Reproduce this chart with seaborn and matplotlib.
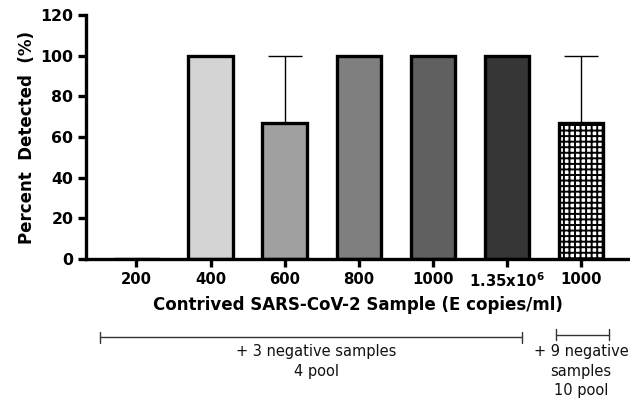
import matplotlib
matplotlib.use("Agg")
import matplotlib.pyplot as plt
import matplotlib.transforms as mtransforms
import seaborn as sns
import pandas as pd
import numpy as np

categories = ["200", "400", "600", "800", "1000", "1.35e6", "1000 pool10"]
tick_labels = ["200", "400", "600", "800", "1000", r"1.35x10$^{\mathregular{6}}$", "1000"]
values = [0, 100, 66.67, 100, 100, 100, 66.67]
err_upper = [0, 0, 33.33, 0, 0, 0, 33.33]
colors = ["#ffffff", "#d4d4d4", "#a0a0a0", "#7f7f7f", "#606060", "#363636", "#ffffff"]

sns.set_style("ticks")
plt.rcParams["font.family"] = ["DejaVu Sans"]
plt.rcParams["hatch.linewidth"] = 1.4
plt.rcParams["mathtext.default"] = "regular"
for k in ["text.color", "axes.labelcolor", "xtick.color", "ytick.color", "axes.edgecolor"]:
    plt.rcParams[k] = "black"

df = pd.DataFrame({"cat": categories, "val": values})

fig = plt.figure(figsize=(6.30, 4.01), dpi=100)
ax = fig.add_axes([0.1365, 0.354, 0.8635, 0.6086])

sns.barplot(data=df, x="cat", y="val", order=categories, hue="cat",
            palette=dict(zip(categories, colors)), legend=False,
            width=0.6, edgecolor="black", linewidth=2.4, ax=ax, errorbar=None,
            saturation=1)

for i, p in enumerate(ax.patches):
    if i == 6:
        p.set_hatch("+++")
        p.set_facecolor("#ffffff")

x = np.arange(len(categories))
yerr = np.array([np.zeros(len(err_upper)), err_upper])
mask = np.array(err_upper) > 0
ax.errorbar(x[mask], np.array(values)[mask], yerr=yerr[:, mask], fmt="none",
            ecolor="black", elinewidth=1.0, capsize=12, capthick=1.0, zorder=1)

ax.set_ylim(0, 120)
ax.set_yticks([0, 20, 40, 60, 80, 100, 120])
ax.set_xlim(-0.68, 6.66)
ax.set_xticks(x)
ax.set_xticklabels(tick_labels, fontsize=10.7, fontweight="bold")
for lab in ax.get_yticklabels():
    lab.set_fontsize(11.3)
    lab.set_fontweight("bold")
ax.set_ylabel("Percent  Detected  (%)", fontsize=12, fontweight="bold", labelpad=3)
ax.set_xlabel("Contrived SARS-CoV-2 Sample (E copies/ml)", fontsize=12,
              fontweight="bold", labelpad=4)

for s in ["top", "right"]:
    ax.spines[s].set_visible(False)
for s in ["left", "bottom"]:
    ax.spines[s].set_linewidth(2.4)
ax.tick_params(axis="both", width=2.4, length=6, direction="out", pad=3)

trans = mtransforms.blended_transform_factory(ax.transData, ax.transAxes)

def bracket(x0, x1, y):
    ax.plot([x0, x1], [y, y], color="#333333", lw=1.0, transform=trans, clip_on=False)
    for xx in (x0, x1):
        ax.plot([xx, xx], [y - 0.022, y + 0.022], color="#333333", lw=1.0,
                transform=trans, clip_on=False)

bracket(-0.49, 5.2, -0.32)
bracket(5.66, 6.38, -0.31)

ax.text(2.43, -0.35, "+ 3 negative samples\n4 pool", transform=trans, ha="center",
        va="top", fontsize=10.5, linespacing=1.35, color="#111111")
ax.text(6.0, -0.35, "+ 9 negative\nsamples\n10 pool", transform=trans, ha="center",
        va="top", fontsize=10.5, linespacing=1.35, color="#111111")

fig.savefig("out.png", dpi=100)
